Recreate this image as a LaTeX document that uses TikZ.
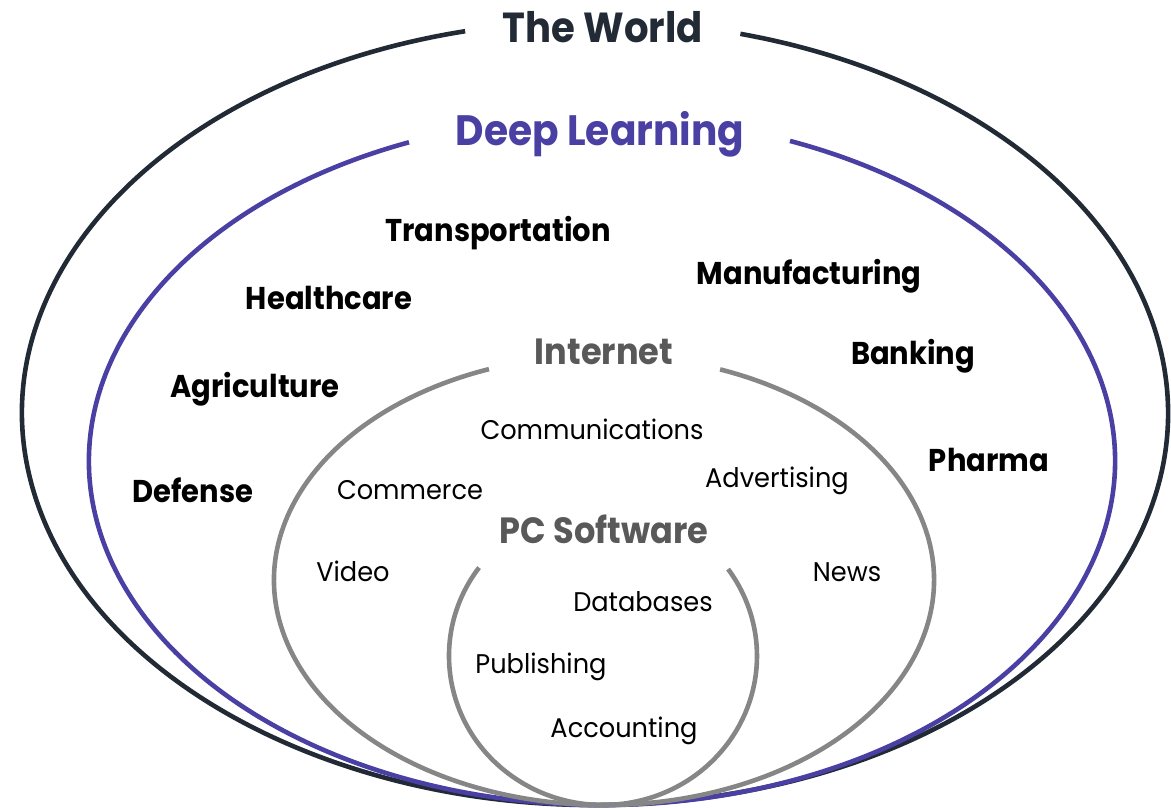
\documentclass[tikz,border=0pt]{standalone}
\usepackage{fontspec}
\setmainfont{Poppins}
\newfontfamily\boldf[FakeStretch=0.92]{Poppins Bold}
\newfontfamily\regf[FakeStretch=0.95]{Poppins}
\definecolor{worldc}{HTML}{222A35}
\definecolor{dlc}{HTML}{4A40A4}
\definecolor{grayline}{HTML}{868686}
\definecolor{graytext}{HTML}{595959}
\begin{document}
\begin{tikzpicture}[x=1pt,y=1pt,
  lbl/.style={inner sep=0pt,anchor=base,font=\boldf\fontsize{31.5}{31.5}\selectfont,text=black},
  sub/.style={inner sep=0pt,anchor=base,font=\regf\fontsize{27}{27}\selectfont,text=black},
  grp/.style={inner sep=0pt,anchor=base,font=\boldf\fontsize{36.5}{36.5}\selectfont,text=graytext},
  ring/.style={line width=4.6pt}]
\useasboundingbox (0,0) rectangle (1171,807);
% ellipse centres
\coordinate (cw) at (595,394);
\coordinate (cd) at (602,346);
\coordinate (ci) at (604,227);
\coordinate (cp) at (603,151);
% rings
\draw[ring,worldc] (cw) ++(103.1:573 and 392) arc[start angle=103.1,end angle=435.3,x radius=573,y radius=392];
\draw[ring,dlc] (cd) ++(112.1:513 and 344) arc[start angle=112.1,end angle=428.5,x radius=513,y radius=344];
\draw[ring,grayline] (ci) ++(110.4:330 and 225) arc[start angle=110.4,end angle=429.4,x radius=330,y radius=225];
\draw[ring,grayline] (cp) ++(143.6:154 and 149) arc[start angle=143.6,end angle=395.7,x radius=154,y radius=149];
% titles
\node[inner sep=0pt,anchor=base,font=\boldf\fontsize{42}{42}\selectfont,text=worldc] (world) at (603,764) {The World};
\node[inner sep=0pt,anchor=base,font=\boldf\fontsize{42.5}{42.5}\selectfont,text=dlc] (dl) at (600,661) {Deep Learning};
\node[grp] (internet) at (604,442) {Internet};
\node[grp] (pcsw) at (604,263) {PC Software};
% deep learning areas
\node[lbl] (transp) at (498,565) {Transportation};
\node[lbl] (health) at (329,497) {Healthcare};
\node[lbl] (agri) at (255,409) {Agriculture};
\node[lbl] (defense) at (193,304) {Defense};
\node[lbl] (manuf) at (809,522) {Manufacturing};
\node[lbl] (bank) at (913,442) {Banking};
\node[lbl] (pharma) at (989,335) {Pharma};
% internet areas
\node[sub] (comm) at (592,367) {Communications};
\node[sub] (commerce) at (410,307) {Commerce};
\node[sub] (advert) at (777,319) {Advertising};
\node[sub] (video) at (353,225) {Video};
\node[sub] (news) at (847,225) {News};
% pc software areas
\node[sub] (db) at (643,196) {Databases};
\node[sub] (publ) at (541,134) {Publishing};
\node[sub] (acct) at (624,70) {Accounting};
\end{tikzpicture}
\end{document}
